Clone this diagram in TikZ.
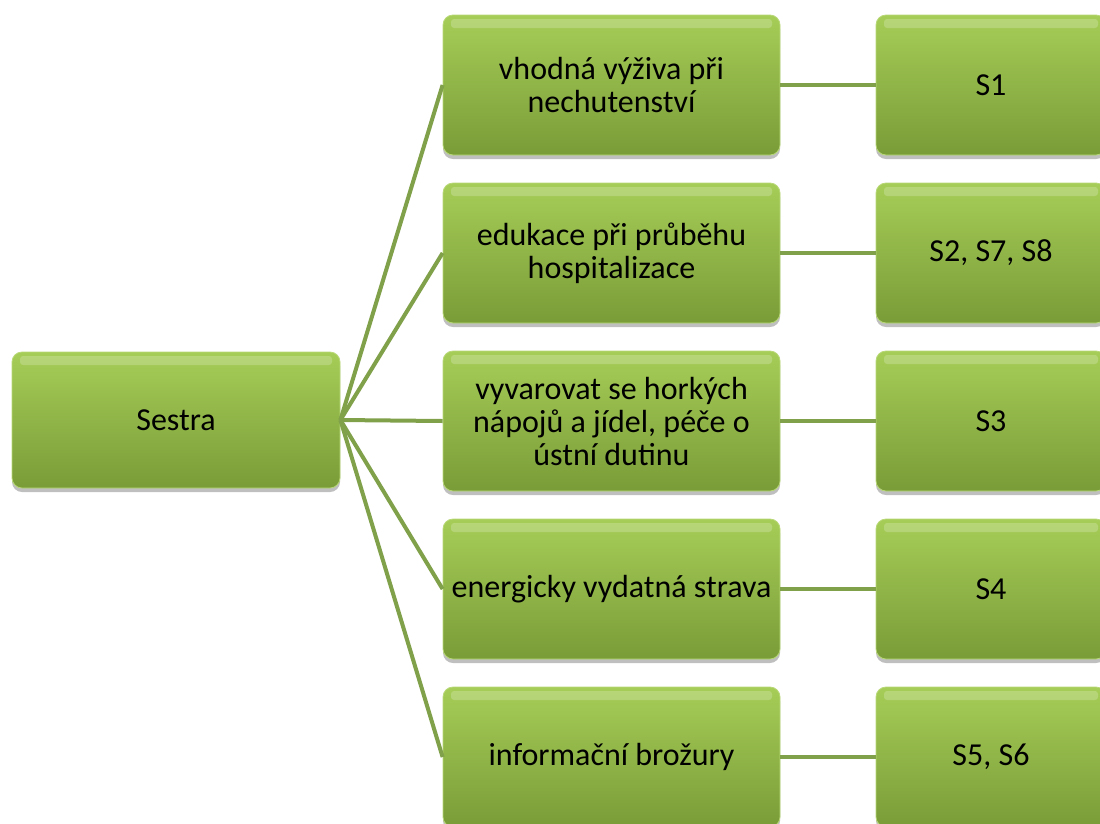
\documentclass[tikz,border=0pt]{standalone}
\usepackage{fontspec}
\setmainfont{Carlito}
\usetikzlibrary{shadows}
\definecolor{boxtop}{HTML}{A6CD57}
\definecolor{boxbot}{HTML}{7A9C38}
\definecolor{boxedge}{HTML}{B8D877}
\definecolor{linkcol}{HTML}{80A04A}
\tikzset{
  gbox/.style={rounded corners=10pt, top color=boxtop, bottom color=boxbot,
    draw=boxedge, line width=0.8pt, align=center, inner sep=2pt,
    font=\fontsize{32}{33}\selectfont, text=black,
    drop shadow={shadow xshift=0pt, shadow yshift=-4pt, opacity=0.25, fill=black},
    path picture={
      \fill[white, opacity=0.2, rounded corners=3pt]
        ([xshift=8pt, yshift=-4pt]path picture bounding box.north west)
        rectangle ([xshift=-8pt, yshift=-13pt]path picture bounding box.north east);
    }},
  rootbox/.style={gbox, minimum width=328pt, minimum height=136pt},
  midbox/.style={gbox, minimum width=337pt, minimum height=140pt},
  refbox/.style={gbox, minimum width=230pt, minimum height=140pt},
  link/.style={draw=linkcol, line width=4pt}
}
\begin{document}
\begin{tikzpicture}[x=1pt,y=-1pt]
\useasboundingbox (0,0) rectangle (1100,823);
\clip (0,0) rectangle (1100,823);
\fill[white] (0,0) rectangle (1100,823);

% root
\node[rootbox] (root) at (176,420) {Sestra};

% activities
\node[midbox] (m1) at (611.5,85)  {vhodná výživa při\\nechutenství};
\node[midbox] (m2) at (611.5,253) {edukace při průběhu\\hospitalizace};
\node[midbox] (m3) at (611.5,421) {vyvarovat se horkých\\nápojů a jídel, péče o\\ústní dutinu};
\node[midbox] (m4) at (611.5,589) {energicky vydatná strava};
\node[midbox] (m5) at (611.5,757) {informační brožury};

% sources
\node[refbox] (r1) at (991,85)  {S1};
\node[refbox] (r2) at (991,253) {S2, S7, S8};
\node[refbox] (r3) at (991,421) {S3};
\node[refbox] (r4) at (991,589) {S4};
\node[refbox] (r5) at (991,757) {S5, S6};

% connectors
\foreach \i in {1,...,5}{
  \draw[link] (root.east) -- (m\i.west);
  \draw[link] (m\i.east) -- (r\i.west);
}
\end{tikzpicture}
\end{document}
